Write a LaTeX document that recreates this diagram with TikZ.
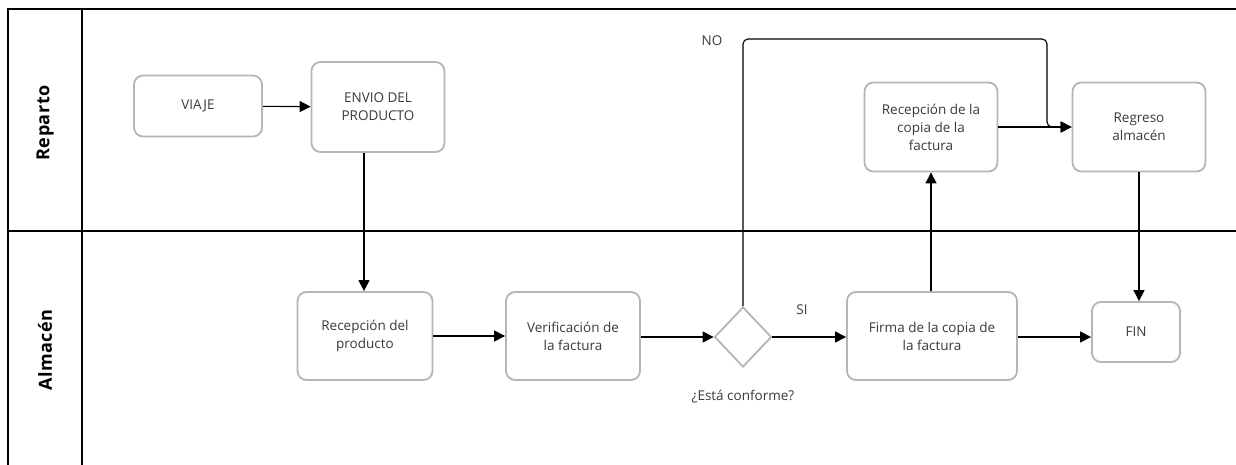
\documentclass[tikz,border=0pt]{standalone}
\usepackage{fontspec}
\setmainfont{Open Sans}
\usetikzlibrary{shapes.geometric,arrows.meta}

\definecolor{boxgray}{HTML}{B5B5B5}
\definecolor{textgray}{HTML}{3A3A3A}

\begin{document}
\begin{tikzpicture}[
    x=1pt, y=-1pt,
    task/.style={draw=boxgray, line width=1.8pt, rounded corners=9pt, fill=white,
        text=textgray, align=center, font=\fontsize{13.5}{18}\selectfont, inner sep=2pt},
    decision/.style={draw=boxgray, line width=1.8pt, diamond, fill=white,
        minimum width=57pt, minimum height=60pt, inner sep=0pt},
    flow/.style={-{Triangle[length=11pt,width=11pt]}, line width=1.1pt},
    lane/.style={line width=1.2pt},
    lanelabel/.style={rotate=90, font=\fontsize{18}{20}\bfseries\selectfont\addfontfeature{LetterSpace=3}},
    note/.style={text=textgray, font=\fontsize{13.5}{18}\selectfont},
]
\useasboundingbox (0,0) rectangle (1236,465);

% Lanes
\draw[lane] (8,465) -- (8,9) -- (1236,9);
\draw[lane] (82,9) -- (82,465);
\draw[lane] (8,231) -- (1236,231);
\node[lanelabel] (reparto) at (45,123) {Reparto};
\node[lanelabel] (almacen) at (45,350) {Almacén};

% Nodes
\node[task, minimum width=128pt, minimum height=61pt] (viaje) at (198,106) {VIAJE};
\node[task, minimum width=133pt, minimum height=90pt] (envio) at (378,107) {ENVIO DEL\\PRODUCTO};
\node[task, minimum width=133pt, minimum height=89pt] (copia) at (931,127) {Recepción de la\\copia de la\\factura};
\node[task, minimum width=133pt, minimum height=89pt] (regreso) at (1139,127) {Regreso\\almacén};
\node[task, minimum width=135pt, minimum height=88pt] (recprod) at (365,336) {Recepción del\\producto};
\node[task, minimum width=134pt, minimum height=88pt] (verif) at (573,336) {Verificación de\\la factura};
\node[decision] (conforme) at (743,337) {};
\node[task, minimum width=170pt, minimum height=88pt] (firma) at (932,336) {Firma de la copia de\\la factura};
\node[task, minimum width=88pt, minimum height=60pt] (fin) at (1136,332) {FIN};

% Labels
\node[note] (pregunta) at (743,397) {¿Está conforme?};
\node[note] (si) at (802,310) {SI};
\node[note] (no) at (712,41) {NO};
\coordinate (notop) at (1047,39);

% Edges
\draw[flow] (viaje) -- (envio);
\draw[flow] (envio.south -| 364,0) -- (recprod.north -| 364,0);
\draw[flow] (recprod) -- (verif);
\draw[flow] (verif.east |- conforme) -- (conforme);
\draw[flow] (conforme) -- (firma.west |- conforme);
\draw[flow] (firma.north -| copia) -- (copia);
\draw[flow] (copia) -- (regreso);
\draw[flow] (regreso.south) -- (fin.north -| regreso.south);
\draw[flow] (firma.east |- 0,337) -- (fin.west |- 0,337);
\draw[flow, rounded corners=5pt] (conforme.north) |- (notop) -- (regreso.west -| notop) -- (regreso.west);

\end{tikzpicture}
\end{document}
